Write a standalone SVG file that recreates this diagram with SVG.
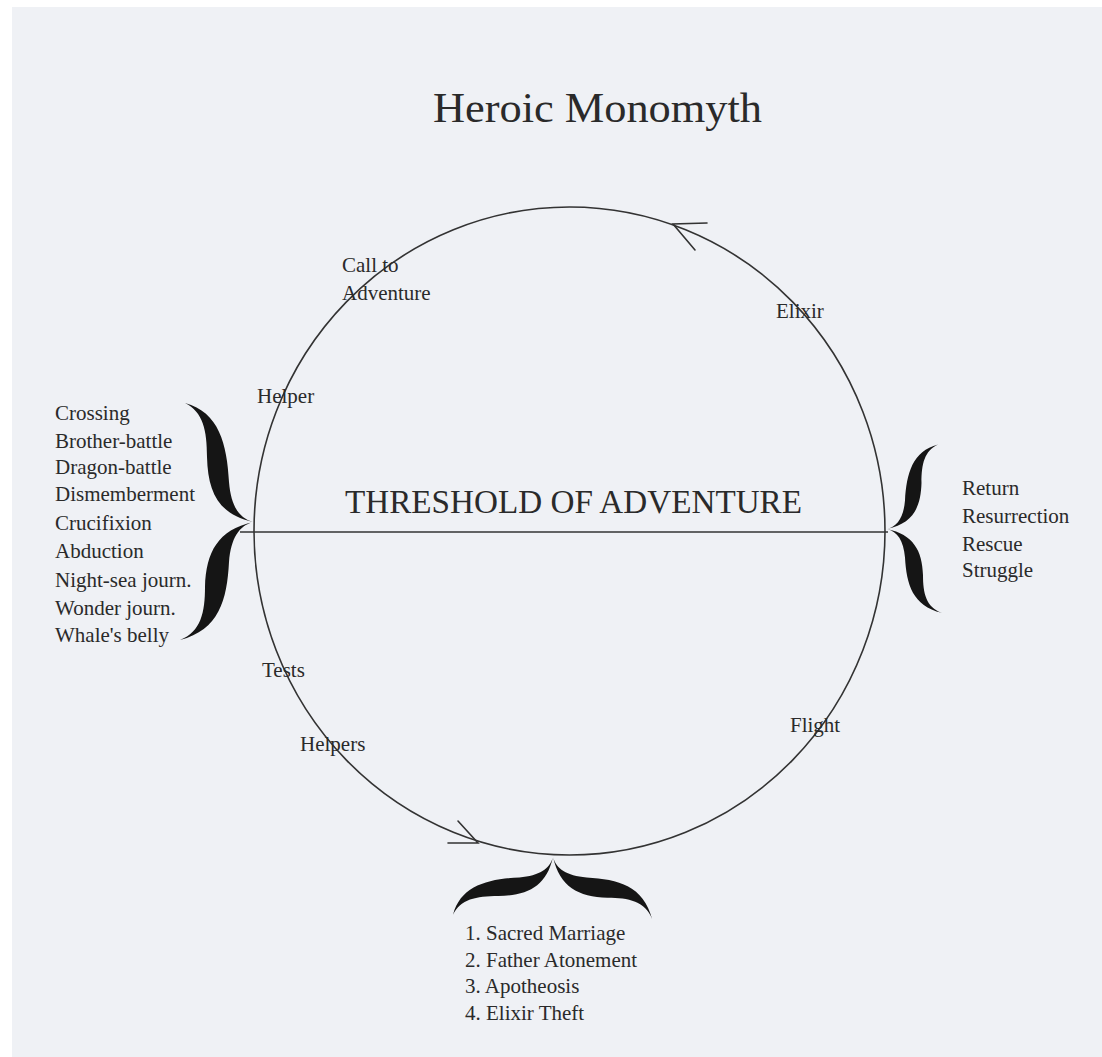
<svg xmlns="http://www.w3.org/2000/svg" width="1102" height="1057" viewBox="0 0 1102 1057">
  <defs>
    <style>
      text { font-family: "Liberation Serif", "Times New Roman", serif; fill: #2a2a2a; }
      .lbl { font-size: 21px; }
      .list { font-size: 21px; }
      .line { fill: none; stroke: #333; stroke-width: 1.6; }
      .arrow { fill: none; stroke: #333; stroke-width: 1.6; stroke-linecap: round; stroke-linejoin: miter; }
      .brace { fill: #151515; }
    </style>
    <path id="braceShape" d="M 0 0 C -14 -4, -22 -16, -24 -40 C -26 -78, -34 -110, -68 -119 C -50 -110, -46 -92, -46 -65 C -45 -30, -35 -8, 0 0 Z M 0 0 C -14 4, -22 16, -24 40 C -26 78, -34 108, -73 118 C -52 110, -48 90, -48 65 C -47 30, -35 8, 0 0 Z"/>
  </defs>

  <rect x="0" y="0" width="1102" height="1057" fill="#ffffff"/>
  <rect x="12" y="7" width="1090" height="1050" fill="#eff1f5"/>

  <g id="title">
    <text x="433" y="122" font-size="43" textLength="329" lengthAdjust="spacingAndGlyphs">Heroic Monomyth</text>
  </g>

  <g id="connectors">
    <ellipse class="line" cx="569.5" cy="531" rx="315.5" ry="324"/>
    <line class="line" x1="240" y1="532" x2="888" y2="532"/>
    <path class="arrow" d="M 707 223 L 673 224 L 695 250"/>
    <path class="arrow" d="M 448 843 L 478 843 L 458 821"/>
  </g>

  <g id="threshold">
    <text x="345" y="513" font-size="33" textLength="457" lengthAdjust="spacingAndGlyphs">THRESHOLD OF ADVENTURE</text>
  </g>

  <g id="call-to-adventure">
    <text class="lbl" x="342" y="272">Call to</text>
    <text class="lbl" x="342" y="300">Adventure</text>
  </g>
  <g id="helper">
    <text class="lbl" x="257" y="403">Helper</text>
  </g>
  <g id="elixir">
    <text class="lbl" x="776" y="318">Elixir</text>
  </g>
  <g id="tests">
    <text class="lbl" x="262" y="677">Tests</text>
  </g>
  <g id="helpers">
    <text class="lbl" x="300" y="751">Helpers</text>
  </g>
  <g id="flight">
    <text class="lbl" x="790" y="732">Flight</text>
  </g>

  <g id="left-brace">
    <use href="#braceShape" class="brace" transform="translate(253,522)"/>
    <text class="list" x="55" y="420">Crossing</text>
    <text class="list" x="55" y="448">Brother-battle</text>
    <text class="list" x="55" y="474">Dragon-battle</text>
    <text class="list" x="55" y="501">Dismemberment</text>
    <text class="list" x="55" y="530">Crucifixion</text>
    <text class="list" x="55" y="558">Abduction</text>
    <text class="list" x="55" y="587">Night-sea journ.</text>
    <text class="list" x="55" y="615">Wonder journ.</text>
    <text class="list" x="55" y="642">Whale's belly</text>
  </g>

  <g id="right-brace">
    <use href="#braceShape" class="brace" transform="translate(887,529) scale(-0.75,0.71)"/>
    <text class="list" x="962" y="495">Return</text>
    <text class="list" x="962" y="523">Resurrection</text>
    <text class="list" x="962" y="551">Rescue</text>
    <text class="list" x="962" y="577">Struggle</text>
  </g>

  <g id="bottom-brace">
    <use href="#braceShape" class="brace" transform="matrix(0,-0.85,0.84,0,553,857)"/>
    <text class="list" x="465" y="940">1. Sacred Marriage</text>
    <text class="list" x="465" y="967">2. Father Atonement</text>
    <text class="list" x="465" y="993">3. Apotheosis</text>
    <text class="list" x="465" y="1020">4. Elixir Theft</text>
  </g>
</svg>
